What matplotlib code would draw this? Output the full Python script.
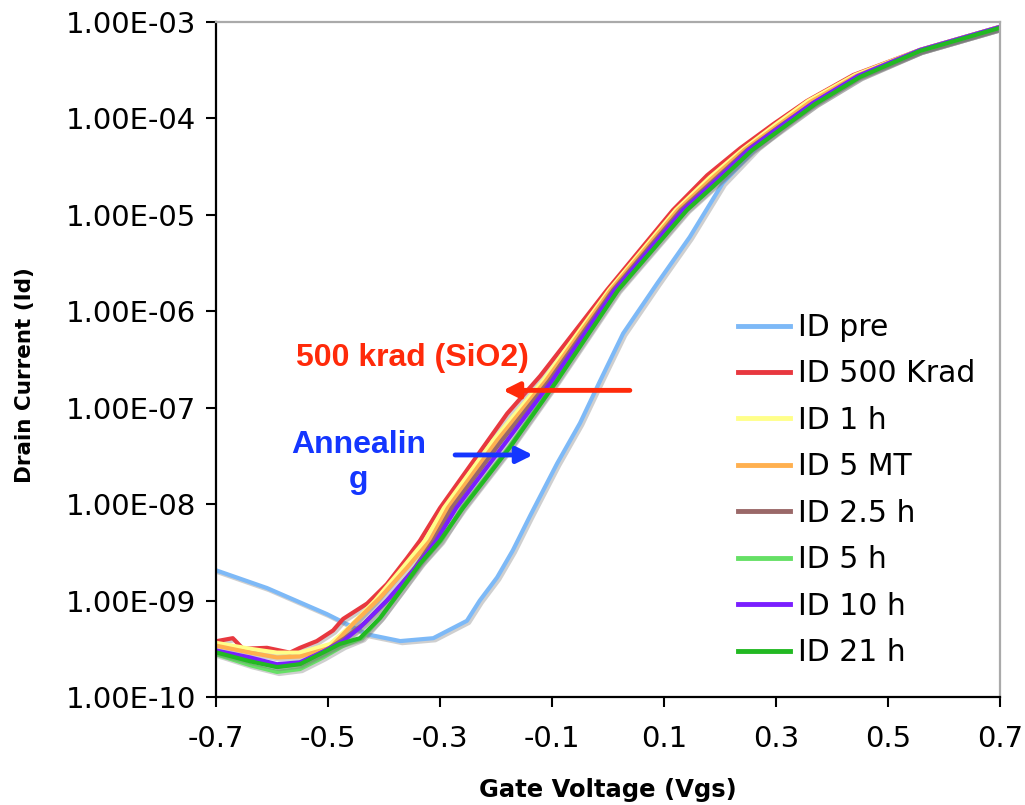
import numpy as np
import matplotlib
matplotlib.use("Agg")
import matplotlib.pyplot as plt
import matplotlib.patheffects as pe
from matplotlib.ticker import FixedLocator, FuncFormatter

# gate voltage and log10 of drain current
pre_v = [-0.698, -0.609, -0.502, -0.430, -0.371, -0.312, -0.252, -0.229, -0.198, -0.170, -0.139,
         -0.091, -0.050, -0.014, 0.027, 0.088, 0.146, 0.205, 0.266, 0.325, 0.361, 0.443, 0.557, 0.700]
pre_log = [-8.69, -8.87, -9.14, -9.35, -9.42, -9.39, -9.21, -9.00, -8.76, -8.48, -8.12,
           -7.58, -7.16, -6.72, -6.23, -5.71, -5.23, -4.67, -4.30, -4.02, -3.87, -3.57, -3.30, -3.06]

k500_v = [-0.698, -0.670, -0.652, -0.609, -0.568, -0.550, -0.520, -0.491, -0.473, -0.430, -0.395,
          -0.359, -0.336, -0.300, -0.180, -0.121, -0.002, 0.116, 0.177, 0.236, 0.295, 0.355, 0.438, 0.557, 0.700]
k500_log = [-9.42, -9.39, -9.50, -9.49, -9.54, -9.49, -9.42, -9.31, -9.19, -9.03, -8.83,
            -8.56, -8.38, -8.04, -7.06, -6.67, -5.78, -4.95, -4.59, -4.31, -4.06, -3.82, -3.55, -3.29, -3.05]

h1_v = [-0.698, -0.639, -0.591, -0.550, -0.496, -0.461, -0.416, -0.371, -0.327, -0.293, -0.205,
        -0.116, 0.002, 0.121, 0.182, 0.241, 0.300, 0.357, 0.441, 0.557, 0.700]
h1_log = [-9.44, -9.50, -9.54, -9.54, -9.45, -9.27, -9.00, -8.69, -8.38, -8.04, -7.34,
          -6.72, -5.78, -4.95, -4.61, -4.32, -4.06, -3.82, -3.55, -3.29, -3.05]

mt5_v = [-0.698, -0.639, -0.591, -0.550, -0.496, -0.455, -0.407, -0.359, -0.318, -0.286, -0.198,
         -0.111, 0.005, 0.125, 0.186, 0.245, 0.304, 0.361, 0.443, 0.557, 0.700]
mt5_log = [-9.47, -9.54, -9.59, -9.58, -9.49, -9.24, -8.97, -8.66, -8.38, -8.04, -7.34,
           -6.72, -5.78, -4.95, -4.62, -4.32, -4.07, -3.83, -3.56, -3.29, -3.05]

h25_v = [-0.698, -0.639, -0.591, -0.550, -0.505, -0.470, -0.434, -0.389, -0.345, -0.312, -0.279,
         -0.191, -0.105, 0.009, 0.130, 0.191, 0.248, 0.307, 0.364, 0.446, 0.557, 0.700]
h25_log = [-9.53, -9.60, -9.68, -9.65, -9.52, -9.39, -9.23, -8.97, -8.66, -8.38, -8.04,
           -7.35, -6.72, -5.78, -4.95, -4.63, -4.33, -4.08, -3.85, -3.57, -3.30, -3.06]

h5_v = [-0.698, -0.639, -0.591, -0.550, -0.509, -0.473, -0.439, -0.404, -0.368, -0.332, -0.298,
        -0.261, -0.177, -0.093, 0.016, 0.139, 0.198, 0.255, 0.314, 0.370, 0.450, 0.557, 0.700]
h5_log = [-9.56, -9.67, -9.74, -9.71, -9.59, -9.47, -9.39, -9.16, -8.88, -8.60, -8.38,
          -8.04, -7.41, -6.72, -5.78, -4.95, -4.64, -4.33, -4.08, -3.85, -3.57, -3.30, -3.06]

h10_v = [-0.698, -0.639, -0.591, -0.550, -0.509, -0.473, -0.443, -0.395, -0.348, -0.307, -0.271,
         -0.184, -0.100, 0.012, 0.134, 0.195, 0.252, 0.311, 0.366, 0.446, 0.557, 0.700]
h10_log = [-9.52, -9.59, -9.66, -9.64, -9.53, -9.42, -9.28, -9.00, -8.69, -8.38, -8.04,
           -7.37, -6.72, -5.78, -4.95, -4.63, -4.32, -4.07, -3.84, -3.56, -3.29, -3.05]

h21_v = [-0.698, -0.639, -0.591, -0.550, -0.509, -0.479, -0.443, -0.407, -0.371, -0.336, -0.300,
         -0.259, -0.175, -0.091, 0.018, 0.141, 0.200, 0.257, 0.316, 0.370, 0.450, 0.557, 0.700]
h21_log = [-9.54, -9.63, -9.69, -9.66, -9.54, -9.45, -9.39, -9.18, -8.90, -8.62, -8.38,
           -8.04, -7.41, -6.72, -5.78, -4.95, -4.64, -4.33, -4.08, -3.85, -3.57, -3.30, -3.06]

labels = ['ID pre', 'ID 500 Krad', 'ID 1 h', 'ID 5 MT', 'ID 2.5 h', 'ID 5 h', 'ID 10 h', 'ID 21 h']
colors = ['#7db9f7', '#e8383f', '#ffff8a', '#ffb04f', '#9a6868', '#66e066', '#7a1fff', '#22b922']
curves = [(pre_v, pre_log), (k500_v, k500_log), (h1_v, h1_log), (mt5_v, mt5_log),
          (h25_v, h25_log), (h5_v, h5_log), (h10_v, h10_log), (h21_v, h21_log)]

x_ticks = [-0.7, -0.5, -0.3, -0.1, 0.1, 0.3, 0.5, 0.7]
y_ticks = [1e-10, 1e-9, 1e-8, 1e-7, 1e-6, 1e-5, 1e-4, 1e-3]


def main():
    plt.rcParams['font.family'] = ['DejaVu Sans']
    fig = plt.figure(figsize=(10.25, 8.05), dpi=100)
    ax = fig.add_axes([216 / 1025, 1 - 697 / 805, 784 / 1025, 675 / 805])

    shadow = [pe.SimpleLineShadow(offset=(1.5, -1.5), shadow_color='#777777', alpha=0.35), pe.Normal()]
    for (v, lg), lab, col in zip(curves, labels, colors):
        ax.plot(v, 10.0 ** np.array(lg), color=col, lw=3.0, label=lab, path_effects=shadow,
                solid_joinstyle='round')

    ax.set_yscale('log')
    ax.set_xlim(-0.7, 0.7)
    ax.set_ylim(1e-10, 1e-3)
    ax.xaxis.set_major_locator(FixedLocator(x_ticks))
    ax.yaxis.set_major_locator(FixedLocator(y_ticks))
    ax.yaxis.set_minor_locator(FixedLocator([]))
    ax.xaxis.set_major_formatter(FuncFormatter(lambda v, p: f"{v:.1f}"))
    ax.yaxis.set_major_formatter(FuncFormatter(lambda v, p: f"{v:.2E}"))
    ax.tick_params(axis='both', direction='out', length=7, width=1.5, labelsize=21, colors='black')
    ax.tick_params(axis='x', pad=13)
    ax.tick_params(axis='y', pad=7)

    for s in ['left', 'bottom']:
        ax.spines[s].set_color('black')
        ax.spines[s].set_linewidth(1.6)
    for s in ['top', 'right']:
        ax.spines[s].set_color('#aaaaaa')
        ax.spines[s].set_linewidth(1.6)

    ax.set_xlabel('Gate Voltage (Vgs)', fontsize=17.5, fontweight='bold')
    ax.set_ylabel('Drain Current (Id)', fontsize=15.5, fontweight='bold')
    ax.xaxis.set_label_coords(0.5, (697 - 790) / 675, transform=ax.transAxes)
    ax.yaxis.set_label_coords((25 - 216) / 784, (697 - 375) / 675, transform=ax.transAxes)
    ax.xaxis.label.set_va('center')
    ax.yaxis.label.set_va('center')

    ax.annotate('', xy=(-0.1875, 10 ** -6.82), xytext=(0.039, 10 ** -6.82),
                arrowprops=dict(arrowstyle='-|>', color='#ff2a0a', lw=3.5, mutation_scale=24,
                                shrinkA=0, shrinkB=0))
    ax.text(-0.35, 10 ** -6.48, '500 krad (SiO2)', color='#ff2a0a', fontsize=23,
            fontweight='bold', ha='center', va='center', family=['Liberation Sans', 'DejaVu Sans'])
    ax.annotate('', xy=(-0.134, 10 ** -7.49), xytext=(-0.273, 10 ** -7.49),
                arrowprops=dict(arrowstyle='-|>', color='#1436ff', lw=3.5, mutation_scale=24,
                                shrinkA=0, shrinkB=0))
    ax.text(-0.446, 10 ** -7.57, 'Annealin\ng', color='#1436ff', fontsize=23, linespacing=1.22,
            fontweight='bold', ha='center', va='center', family=['Liberation Sans', 'DejaVu Sans'])

    leg = ax.legend(loc='upper left', bbox_to_anchor=(738 / 1025, 1 - 313 / 805),
                    bbox_transform=fig.transFigure, frameon=False, fontsize=21.5,
                    handlelength=1.74, handletextpad=0.27, labelspacing=0.585,
                    borderpad=0, borderaxespad=0)
    for h in leg.get_lines():
        h.set_linewidth(3.5)
        h.set_path_effects([])

    fig.savefig('out.png', dpi=100)


if __name__ == '__main__':
    main()
